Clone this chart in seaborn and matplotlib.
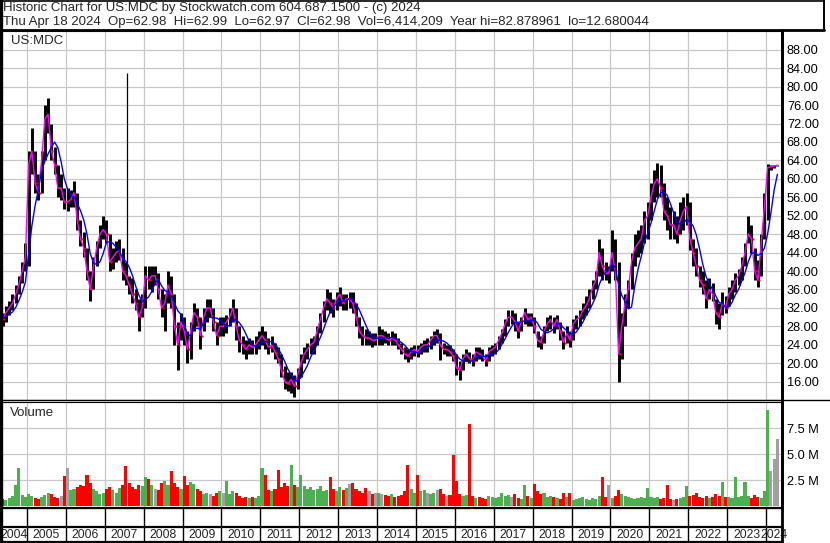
import numpy as np
import pandas as pd
import matplotlib
matplotlib.use("Agg")
import matplotlib.pyplot as plt
import seaborn as sns

# -----------------------------
# Data (monthly, Apr 2004 .. Apr 2024)
# -----------------------------
FIRST_MONTH = 2004.25  # April 2004

close_px = [
    30, 29.5, 31, 32, 33, 35, 37, 40, 43,                       # 2004
    63, 66, 59, 57, 64, 73, 74, 66, 63, 58, 58, 55,             # 2005
    55, 55.5, 57, 51, 47, 45, 40, 36, 41, 45, 48, 49,           # 2006
    48, 42, 43, 44, 44.5, 40, 39, 37, 35, 33, 30, 32,           # 2007
    39, 38, 39, 39, 36, 32, 33, 37, 35, 28, 24, 29,             # 2008
    27, 23, 27, 31, 30, 26, 30, 32, 32, 29, 26, 28,             # 2009
    28, 29, 30, 32, 28, 25, 24, 23, 24, 23.5, 24, 25,           # 2010
    26, 25, 23.5, 24, 22.5, 21, 18.5, 16, 15.5, 16.5, 15, 17.5, # 2011
    20, 22, 23, 24, 24.5, 27, 29.5, 32, 34, 33, 32, 34,         # 2012
    35, 33, 34, 34, 33, 30, 27, 26, 25.5, 25.5, 25, 25,         # 2013
    26, 26, 25.5, 25, 25.5, 25, 24, 23, 22, 21.5, 22.5, 23,     # 2014
    22.5, 23.5, 24, 24, 25, 26, 26, 24, 23, 23, 22.5, 21.5,     # 2015
    19, 18.5, 21, 22, 21, 20.5, 22.5, 22, 21.5, 20.5, 22.5, 23, # 2016
    23.5, 25, 26.5, 28.5, 30, 30, 29, 27, 29, 31, 29.5, 30,     # 2017
    28, 25, 24.5, 27, 28.5, 29.5, 28, 29.5, 27, 24.5, 26.5, 25, # 2018
    28.5, 29.5, 30, 31.5, 32.5, 34, 36.5, 38, 44, 41, 39.5, 39.5, # 2019
    44, 40, 22, 28, 33, 36, 42, 45, 46, 47, 51, 52,             # 2020
    56, 59, 60, 58, 53, 52, 50, 50, 48, 51, 53, 54,             # 2021
    47, 44, 41, 38, 37, 34, 36, 35, 31, 30, 33, 32,             # 2022
    35, 36, 38, 39, 41, 44, 48, 47, 40, 38, 46, 54,             # 2023
    62.5, 62.6, 62.8, 62.98,                                    # 2024
]

high_px = [
    32, 31, 32.5, 33.5, 35, 37, 39, 42, 46,
    66, 71, 66, 61, 66, 76, 77.5, 72, 67, 63, 61, 58,
    58, 57.5, 59.5, 57, 51, 48.5, 45, 40, 43, 46.5, 50, 52,
    51, 48, 45, 46.5, 47, 45, 42, 39, 38.5, 36, 34, 35,
    41, 41, 41, 41, 39.5, 36, 35, 40, 39, 35, 29, 31,
    30, 27, 29, 33, 32, 30, 32, 34, 34, 32, 29, 30,
    30, 30.5, 32, 34, 32, 28, 26, 25, 25.5, 25, 26, 27,
    28, 27, 25.5, 26, 24.5, 23.5, 22, 19.5, 18, 18, 17.5, 19,
    22, 23.5, 24.5, 25.5, 26, 28, 31, 33.5, 36, 35.5, 34, 35.5,
    36.5, 35, 35, 35.5, 35.5, 33, 30, 28, 27.5, 27, 26.5, 26.5,
    28, 27.5, 27, 26.5, 27, 26.5, 25.5, 24.5, 23.5, 23, 23.5, 24,
    24, 24.5, 25, 25.5, 26, 27, 27.5, 26.5, 24.5, 24, 24, 23,
    22, 20.5, 22, 23, 22.5, 22, 23.5, 23.5, 23, 22, 23.5, 24,
    24.5, 26, 27.5, 29.5, 31.5, 31.5, 31, 29, 30, 32, 31, 31,
    30, 27, 26, 28, 30, 30.5, 30, 30.5, 29, 27, 28, 27,
    29.5, 30.5, 31.5, 33, 34.5, 36, 38, 40, 47, 45, 42, 41,
    49, 47, 42, 31, 35, 38, 44, 48, 49, 50, 53, 55,
    59, 62, 63.5, 63, 59, 56, 54, 53, 52, 55, 56, 57,
    55, 47, 45, 41, 40, 38, 38.5, 37.5, 34, 33, 35.5, 34.5,
    36.5, 38, 39.5, 40.5, 43, 46, 52, 50, 45, 42.5, 48, 57,
    63.2, 63, 63, 63,
]

low_px = [
    28, 28, 29, 30.5, 31.5, 33, 35, 37.5, 40,
    41, 61, 57, 55.5, 57, 64, 70, 64, 61, 56, 55.5, 53.5,
    53, 54, 54, 49, 45.5, 43, 38, 33.5, 36, 41, 45, 47,
    46, 40, 40.5, 42, 42.5, 38, 37, 35, 33, 31.5, 27, 30,
    32, 36, 35.5, 37, 34, 30, 27, 33, 32, 24, 18.5, 25,
    24, 20, 21, 27, 28, 23, 27, 29, 30, 27, 24, 26,
    26, 26.5, 28, 29, 25, 22.5, 22, 21, 22, 22, 22, 23,
    24, 23, 22, 22.5, 21, 20, 17, 14.5, 14, 13.5, 12.7, 14.5,
    17, 20, 21, 22, 22, 24, 26.5, 29, 31.5, 31, 30, 31.5,
    32.5, 31.5, 31.5, 32, 31, 28, 25.5, 24, 24, 24, 23.5, 24,
    24, 24, 24.5, 24, 24, 24, 23, 22, 21, 20.3, 21, 21.5,
    21.3, 22, 22.5, 22.5, 23, 24, 24.5, 20.6, 22, 21.5, 21.5, 20.5,
    17.5, 16.3, 18.5, 20.5, 20, 19.5, 20.5, 21, 20.5, 19.5, 20.5, 21.5,
    22, 23, 24.5, 26, 28, 28.5, 27, 25.5, 27, 28.5, 28, 28,
    26.5, 23.5, 23, 24.5, 27, 27.5, 26.5, 27.5, 25, 23, 24.5, 23.5,
    25, 27.5, 28, 29.5, 30.5, 32, 34, 36, 39, 38, 38, 37.5,
    40, 38, 16, 21, 28, 32, 36, 41, 43, 44, 46, 47,
    51, 55, 56, 56, 51, 49, 47, 47, 46, 48, 49, 50,
    44.5, 41, 39, 36.5, 35, 32, 34, 33.5, 28.5, 27.5, 30.5, 31,
    32.5, 34, 35.5, 37, 38, 41, 46, 44, 38, 36.5, 39, 47,
    51, 62, 62.3, 62.8,
]

volume_m = [
    0.9, 0.7, 0.6, 0.8, 1.0, 2.0, 3.7, 1.1, 0.9,
    1.2, 1.0, 0.8, 0.7, 0.9, 1.1, 1.3, 1.2, 0.9, 0.8, 1.0, 2.9,
    3.7, 1.5, 1.6, 1.8, 2.0, 1.9, 3.0, 2.2, 1.6, 1.4, 1.2, 1.3,
    1.6, 1.8, 1.5, 1.3, 1.7, 2.0, 3.8, 2.2, 1.8, 1.6, 2.0, 1.9,
    2.8, 2.6, 2.0, 1.6, 1.5, 2.2, 2.4, 2.0, 3.4, 2.2, 1.8, 1.6,
    2.9, 2.0, 2.3, 2.1, 1.6, 1.4, 1.2, 1.3, 1.2, 1.0, 1.3, 1.4,
    1.3, 2.4, 1.2, 1.4, 1.3, 1.0, 0.8, 0.9, 0.8, 0.9, 0.8, 1.0,
    3.7, 3.0, 1.5, 1.4, 1.6, 3.5, 1.8, 2.2, 1.9, 3.9, 2.0, 1.8,
    2.95, 1.9, 1.6, 1.8, 1.5, 1.6, 1.9, 1.4, 1.5, 2.8, 1.6, 1.4,
    1.8, 1.5, 1.7, 2.1, 2.2, 1.6, 1.4, 1.3, 1.7, 1.4, 1.2, 1.3,
    1.3, 1.2, 1.1, 1.0, 1.2, 0.9, 1.0, 1.1, 1.4, 3.9, 1.6, 1.3,
    3.0, 1.4, 1.5, 1.3, 1.2, 1.3, 1.5, 1.6, 1.2, 1.0, 1.1, 4.9,
    2.4, 1.2, 1.0, 1.1, 7.9, 1.0, 0.8, 0.9, 0.8, 0.7, 1.0, 0.9,
    0.8, 0.9, 1.3, 1.0, 1.1, 0.9, 1.2, 0.8, 0.7, 2.0, 1.0, 0.8,
    2.1, 1.4, 1.2, 1.3, 0.9, 1.0, 0.9, 0.8, 0.7, 1.3, 0.9, 1.3,
    0.6, 0.7, 0.8, 0.9, 0.7, 0.6, 0.8, 0.7, 1.0, 2.8, 0.9, 2.0,
    0.8, 1.0, 1.5, 1.2, 1.0, 0.9, 0.8, 0.7, 0.8, 0.9, 0.8, 1.7,
    0.9, 0.8, 0.9, 0.7, 0.8, 2.0, 0.7, 0.6, 0.7, 0.8, 0.9, 1.9,
    1.0, 1.1, 1.3, 0.9, 0.8, 1.0, 0.8, 0.9, 1.2, 1.0, 2.3, 0.9,
    0.9, 0.8, 2.8, 0.9, 1.0, 2.3, 1.0, 0.8, 1.1, 0.9, 0.8, 1.4,
    9.2, 3.4, 4.5, 6.4,
]

# one bad print in 2007 (the "Year hi")
spike_t = 2007.58
spike_hi = 82.878961
spike_lo = 39.0

year_labels = list(range(2004, 2025))
price_ticks = list(range(16, 92, 4))
vol_ticks = [2.5, 5.0, 7.5]

title_1 = "Historic Chart for US:MDC by Stockwatch.com 604.687.1500 - (c) 2024"
title_2 = ("Thu Apr 18 2024  Op=62.98  Hi=62.99  Lo=62.97  Cl=62.98  "
           "Vol=6,414,209  Year hi=82.878961  lo=12.680044")

# -----------------------------
# Frame
# -----------------------------
df = pd.DataFrame({"close": close_px, "high": high_px, "low": low_px, "vol": volume_m})
df["t"] = FIRST_MONTH + (np.arange(len(df)) + 0.5) / 12.0
df["ma_fast"] = df["close"]
df["ma_slow"] = df["close"].rolling(5, min_periods=1).mean()
chg = df["close"].diff().fillna(0)
df["vcol"] = np.where(chg.abs() < 0.3, "#a0a0a0", np.where(chg > 0, "#4caf50", "#ff0000"))

sns.set_style("white")
plt.rcParams["font.family"] = ["Liberation Sans", "DejaVu Sans"]

W, H = 830, 543
X0, X1 = 2004.357, 2024.41


def box(l, t, r, b):
    return [l / W, 1 - b / H, (r - l) / W, (b - t) / H]


fig = plt.figure(figsize=(W / 100, H / 100), dpi=100)
fig.patch.set_facecolor("white")

ax = fig.add_axes(box(2, 31, 782, 400))
axv = fig.add_axes(box(2, 402, 782, 508))
axs = fig.add_axes(box(2, 508, 782, 542))

GRID = "#c8c8c8"
for a in (ax, axv):
    a.set_xlim(X0, X1)
    a.set_xticks(year_labels[1:])
    a.set_xticklabels([])
    a.grid(True, color=GRID, lw=0.9)
    a.set_axisbelow(True)
    a.tick_params(axis="both", length=0, labelleft=False, labelright=True,
                  labelsize=9.2, pad=3.5, colors="black")
    for s in a.spines.values():
        s.set_color("black")
        s.set_linewidth(0.8)
    a.spines["right"].set_linewidth(2.0)
    a.spines["left"].set_visible(False)

# price panel
ax.set_ylim(12.03, 92.07)
ax.set_yticks(price_ticks)
ax.set_yticklabels([f"{v:.2f}" for v in price_ticks])
ax.yaxis.tick_right()
ax.vlines(df["t"], df["low"], df["high"], color="black", lw=2.1)
ax.vlines([spike_t], [spike_lo], [spike_hi], color="black", lw=0.9)
down = df["close"] < df["close"].shift(1)
ax.plot(df["t"][down] + 0.03, df["close"][down], ls="", marker="s", ms=1.6,
        color="#ff0000", mec="none")
sns.lineplot(data=df, x="t", y="ma_fast", color="#ff00ff", lw=1.0, ax=ax, sort=False)
sns.lineplot(data=df, x="t", y="ma_slow", color="#0000ff", lw=1.0, ax=ax, sort=False)
ax.set_xlabel("")
ax.set_ylabel("")
ax.text(9 / 780, 1 - 10 / 369, "US:MDC", transform=ax.transAxes, fontsize=9.5,
        va="center", ha="left")

# volume panel
axv.set_ylim(-0.19, 10.0)
axv.set_yticks(vol_ticks + [10.0])
axv.set_yticklabels([f"{v:.1f} M" for v in vol_ticks] + [""])
axv.yaxis.tick_right()
axv.bar(df["t"], df["vol"], width=1 / 12 * 0.95, color=df["vcol"], lw=0)
axv.set_xlabel("")
axv.set_ylabel("")
axv.text(8 / 780, 1 - 11 / 106, "Volume", transform=axv.transAxes, fontsize=9.5,
         va="center", ha="left")

# year strip
axs.set_xlim(X0, X1)
axs.set_ylim(0, 1)
axs.axis("off")
for y in year_labels[1:]:
    axs.axvline(y, color="black", lw=1.0)
axs.axhline(0.44, color="black", lw=1.6)
for y in year_labels:
    lo, hi = max(y, X0), min(y + 1, X1)
    axs.text((lo + hi) / 2, 0.22, str(y), ha="center", va="center", fontsize=8.8)

# frame lines in pixel space
ov = fig.add_axes([0, 0, 1, 1], zorder=10)
ov.set_xlim(0, W)
ov.set_ylim(H, 0)
ov.axis("off")
ov.patch.set_alpha(0)
ov.plot([0, 824], [0.6, 0.6], color="black", lw=1.2)
ov.plot([0, 824], [30.2, 30.2], color="black", lw=2.0)
ov.plot([824, 824], [0, 30], color="black", lw=1.4)
ov.plot([1, 1], [0, H], color="black", lw=2.4)
ov.plot([782, 782], [30, 543], color="black", lw=2.0)
ov.plot([0, W], [400.3, 400.3], color="black", lw=1.0)
ov.plot([0, 782], [508.3, 508.3], color="black", lw=1.6)
ov.plot([0, 782], [541.8, 541.8], color="black", lw=1.6)

fig.text(3 / W, 1 - 8.5 / H, title_1, fontsize=9.5, va="center", ha="left")
fig.text(3 / W, 1 - 22.5 / H, title_2, fontsize=9.5, va="center", ha="left")

fig.savefig("out.png", dpi=100, facecolor="white")
